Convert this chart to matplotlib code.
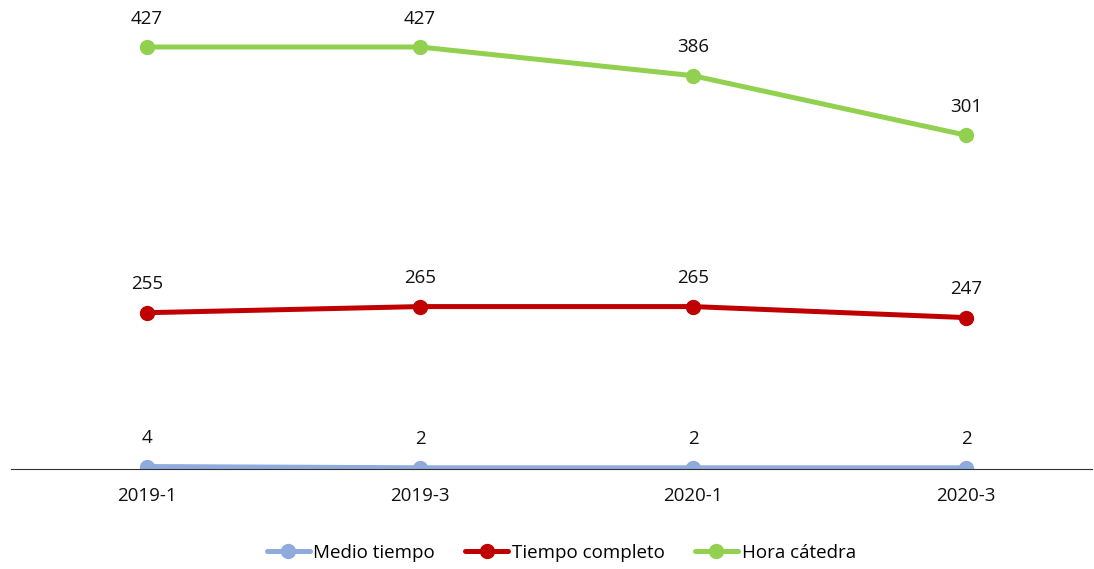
import matplotlib.pyplot as plt
import numpy as np

periods = ["2019-1", "2019-3", "2020-1", "2020-3"]
medio_tiempo = [4, 2, 2, 2]
tiempo_completo = [255, 265, 265, 247]
hora_catedra = [427, 427, 386, 301]

plt.rcParams["font.family"] = ["Open Sans", "DejaVu Sans"]

fig = plt.figure(figsize=(10.94, 5.69), dpi=100)
ax = fig.add_axes([10.5 / 1094, 1 - 469 / 569, 1092 / 1094, 464 / 569])
ax2 = ax.twinx()

x = np.arange(len(periods))
ax.set_xlim(-0.5, len(periods) - 0.5)
ax.set_ylim(0, 757)
ax2.set_ylim(-176, 487)

blue, red, green = "#8FAADC", "#C00000", "#92D050"
kw = dict(lw=3.6, marker="o", markersize=10, solid_capstyle="round")
l1, = ax.plot(x, medio_tiempo, color=blue, label="Medio tiempo", **kw)
l2, = ax.plot(x, tiempo_completo, color=red, label="Tiempo completo", **kw)
l3, = ax2.plot(x, hora_catedra, color=green, label="Hora cátedra", **kw)

for axis, vals in [(ax, medio_tiempo), (ax, tiempo_completo), (ax2, hora_catedra)]:
    for xi, v in zip(x, vals):
        axis.annotate(str(v), (xi, v), xytext=(0, 14), textcoords="offset points",
                      ha="center", va="bottom", fontsize=13.5, color="#111111")

for a in (ax, ax2):
    for s in a.spines.values():
        s.set_visible(False)
    a.set_yticks([])
ax.spines["bottom"].set_visible(True)
ax.spines["bottom"].set_color("#333333")
ax.spines["bottom"].set_bounds(-0.5, 3.46)
ax.set_xticks(x)
ax.set_xticklabels(periods, fontsize=13.5, color="#111111")
ax.tick_params(axis="x", length=0, pad=13)

fig.legend(handles=[l1, l2, l3], loc="center", bbox_to_anchor=(0.513, 1 - 553 / 569),
           ncol=3, frameon=False, fontsize=13.5, handlelength=2.3, columnspacing=1.6,
           handletextpad=0.2)

fig.savefig("out.png", dpi=100)
